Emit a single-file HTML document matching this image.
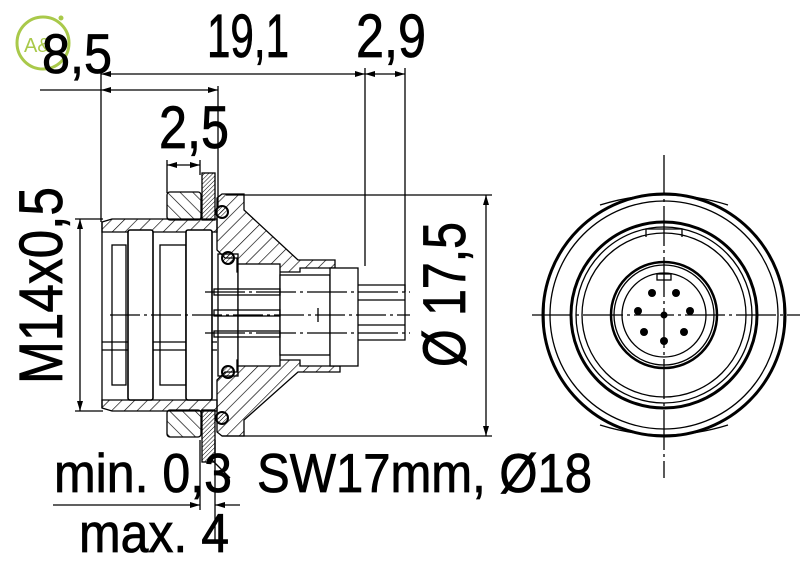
<!DOCTYPE html>
<html><head><meta charset="utf-8"><style>
html,body{margin:0;padding:0;background:#fff;}
svg{display:block}
text{font-family:"Liberation Sans",sans-serif;fill:#000;stroke:#000;stroke-width:0.8}
</style></head><body>
<svg width="800" height="578" viewBox="0 0 800 578" xmlns="http://www.w3.org/2000/svg">
<defs>
<pattern id="h" patternUnits="userSpaceOnUse" width="9" height="9" patternTransform="rotate(45)">
<line x1="0" y1="0" x2="0" y2="9" stroke="#000" stroke-width="1.3"/></pattern>
<pattern id="hd" patternUnits="userSpaceOnUse" width="3" height="3" patternTransform="rotate(45)">
<line x1="0" y1="0" x2="0" y2="3" stroke="#000" stroke-width="1"/></pattern>
<pattern id="hb" patternUnits="userSpaceOnUse" width="9" height="9" patternTransform="rotate(-45)">
<line x1="0" y1="0" x2="0" y2="9" stroke="#000" stroke-width="1.3"/></pattern>
<marker id="a" viewBox="0 0 10 6" refX="10" refY="3" markerWidth="10" markerHeight="6" orient="auto-start-reverse" markerUnits="userSpaceOnUse"><path d="M0,0L10,3L0,6z" fill="#000"/></marker>
</defs>

<!-- logo -->
<circle cx="43" cy="43" r="26" fill="none" stroke="#a9c94a" stroke-width="3"/>
<circle cx="61" cy="18" r="2.5" fill="#a9c94a"/>
<text x="24" y="52" font-size="20" style="fill:#a9c94a;stroke:none">A&amp;</text>

<g stroke="#000" stroke-width="1.3" fill="none">
<line x1="101" y1="74" x2="365" y2="74" marker-start="url(#a)" marker-end="url(#a)"/>
<line x1="365" y1="74" x2="405" y2="74" marker-start="url(#a)" marker-end="url(#a)"/>
<line x1="40" y1="90" x2="101" y2="90"/>
<line x1="101" y1="90" x2="218" y2="90" marker-start="url(#a)" marker-end="url(#a)"/>
<line x1="101" y1="70" x2="101" y2="222"/>
<line x1="218" y1="86" x2="218" y2="208"/>
<line x1="365" y1="68" x2="365" y2="266"/>
<line x1="405" y1="68" x2="405" y2="292"/>
<line x1="167" y1="165" x2="200" y2="165" marker-start="url(#a)" marker-end="url(#a)"/>
<line x1="167" y1="160" x2="167" y2="193"/>
<line x1="200" y1="160" x2="200" y2="175"/>
<line x1="75" y1="219" x2="103" y2="219"/>
<line x1="75" y1="411" x2="103" y2="411"/>
<line x1="80" y1="219" x2="80" y2="411" marker-start="url(#a)" marker-end="url(#a)"/>
<line x1="226" y1="195" x2="492" y2="195"/>
<line x1="222" y1="436" x2="492" y2="436"/>
<line x1="486" y1="195" x2="486" y2="436" marker-start="url(#a)" marker-end="url(#a)"/>
<line x1="53" y1="505" x2="200" y2="505" marker-end="url(#a)"/>
<line x1="215" y1="505" x2="240" y2="505" marker-start="url(#a)"/>
<line x1="200" y1="440" x2="200" y2="510"/>
<line x1="215" y1="440" x2="215" y2="540"/>
<line x1="230" y1="478" x2="212" y2="460"/>

<rect x="202" y="173" width="13" height="47" fill="url(#hd)"/>
<rect x="202" y="410" width="13" height="52" fill="url(#hd)"/>
<rect x="167" y="192" width="34" height="28" rx="3" fill="url(#hb)"/>
<rect x="167" y="410" width="34" height="27" rx="3" fill="url(#hb)"/>
<path d="M102,222 L112,219 L217,219 L217,232 L102,232 Z" fill="url(#h)"/>
<path d="M102,408 L112,411 L217,411 L217,400 L102,400 Z" fill="url(#h)"/>
<line x1="102" y1="222" x2="102" y2="408"/>
<rect x="112" y="245" width="14" height="140"/>
<rect x="160" y="245" width="26" height="140"/>
<line x1="102" y1="342" x2="217" y2="342"/>
<line x1="102" y1="350" x2="217" y2="350"/>
<rect x="128" y="230" width="25" height="170" rx="2" fill="#fff" stroke-width="1.6"/>
<rect x="186" y="230" width="26" height="170" rx="2" fill="#fff" stroke-width="1.6"/>
<path d="M217,198 L222,194 L244,194 L244,210 L298,260 L335,260 L335,268 L300,268 L300,272 L237,272 L237,258 L225,258 L217,250 Z" fill="url(#h)"/>
<path d="M217,380 L225,372 L237,372 L237,360 L300,360 L300,366 L340,366 L340,372 L298,372 L244,420 L244,436 L222,436 L217,432 Z" fill="url(#h)"/>
<circle cx="222" cy="212" r="6" fill="url(#hd)" stroke-width="2"/>
<circle cx="222" cy="418" r="6" fill="url(#hd)" stroke-width="2"/>
<circle cx="228" cy="258" r="6" fill="url(#hd)" stroke-width="2"/>
<circle cx="228" cy="372" r="6" fill="url(#hd)" stroke-width="2"/>
<rect x="218" y="254" width="20" height="122"/>
<rect x="238" y="264" width="42" height="102" fill="#fff"/>
<rect x="280" y="275" width="50" height="80" fill="#fff"/>
<rect x="330" y="268" width="28" height="98" fill="#fff"/>
<path d="M358,285 L405,285 L405,340 L358,340"/>
<line x1="358" y1="300" x2="405" y2="300"/>
<line x1="358" y1="325" x2="405" y2="325"/>
<rect x="214" y="289" width="66" height="6"/>
<rect x="214" y="310" width="66" height="6"/>
<rect x="214" y="331" width="66" height="6"/>
<line x1="205" y1="292" x2="410" y2="292" stroke-dasharray="40,4,3,4"/>
<line x1="205" y1="333" x2="410" y2="333" stroke-dasharray="40,4,3,4"/>
<line x1="110" y1="315" x2="410" y2="315" stroke-dasharray="30,4,3,4"/>
<line x1="318" y1="308" x2="318" y2="322"/>

<line x1="664" y1="155" x2="664" y2="478" stroke-dasharray="40,4,3,4"/>
<line x1="532" y1="315" x2="800" y2="315" stroke-dasharray="40,4,3,4"/>
<circle cx="664" cy="315" r="121" stroke-width="3"/>
<path d="M600,205 Q664,185 728,205 M600,425 Q664,445 728,425 M545,290 Q543,315 545,340 M783,290 Q785,315 783,340"/>
<circle cx="664" cy="315" r="114"/>
<circle cx="664" cy="315" r="93" stroke-width="3"/>
<circle cx="664" cy="315" r="88"/>
<circle cx="664" cy="315" r="82"/>
<path d="M646,237 L646,229 L682,229 L682,237"/>
<circle cx="664" cy="315" r="53" stroke-width="2.5"/>
<circle cx="664" cy="315" r="50"/>
<circle cx="664" cy="315" r="42"/>
<rect x="657" y="274" width="14" height="6"/>
</g>
<g fill="#000">
<circle cx="652" cy="293" r="4"/><circle cx="676" cy="293" r="4"/>
<circle cx="638" cy="311" r="4"/><circle cx="690" cy="311" r="4"/>
<circle cx="644" cy="332" r="4"/><circle cx="684" cy="332" r="4"/>
<circle cx="664" cy="341" r="4"/><circle cx="664" cy="315" r="3.5"/>
</g>

<text x="42" y="73" font-size="56" textLength="70" lengthAdjust="spacingAndGlyphs">8,5</text>
<text x="207" y="57" font-size="61" textLength="82" lengthAdjust="spacingAndGlyphs">19,1</text>
<text x="356" y="57" font-size="61" textLength="70" lengthAdjust="spacingAndGlyphs">2,9</text>
<text x="159" y="148" font-size="60" textLength="70" lengthAdjust="spacingAndGlyphs">2,5</text>
<text transform="translate(62,384) rotate(-90)" font-size="61" textLength="197" lengthAdjust="spacingAndGlyphs">M14x0,5</text>
<text transform="translate(465,367) rotate(-90)" font-size="60" textLength="145" lengthAdjust="spacingAndGlyphs">Ø 17,5</text>
<text x="54" y="492" font-size="55" textLength="178" lengthAdjust="spacingAndGlyphs">min. 0,3</text>
<text x="79" y="552" font-size="55" textLength="150" lengthAdjust="spacingAndGlyphs">max. 4</text>
<text x="257" y="492" font-size="55" textLength="335" lengthAdjust="spacingAndGlyphs">SW17mm, Ø18</text>
</svg>
</body></html>
